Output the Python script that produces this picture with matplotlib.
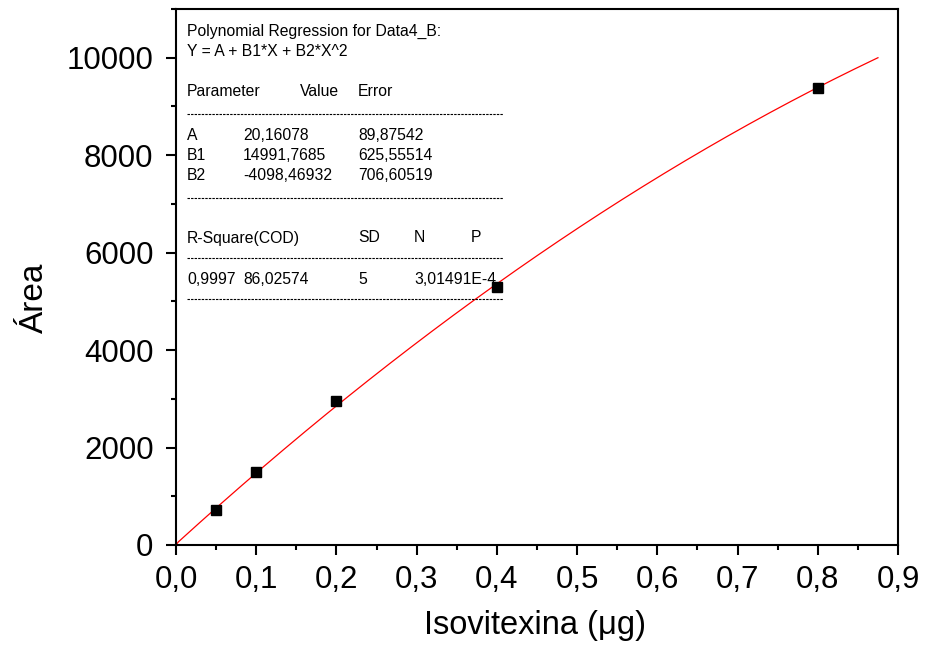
import matplotlib.pyplot as plt
from matplotlib.ticker import MultipleLocator, FuncFormatter
import numpy as np

plt.rcParams['font.family'] = ['Liberation Sans', 'DejaVu Sans']

# measured points
x_pts = [0.05, 0.1, 0.2, 0.4, 0.8]
y_pts = [717, 1496, 2951, 5287, 9385]

# fit parameters (from the Origin report)
A = 20.16078
B1 = 14991.7685
B2 = -4098.46932
fit_x_max = 0.875

fig = plt.figure(figsize=(9.25, 6.53), dpi=100)
ax = fig.add_axes([176 / 925, 1 - 545 / 653, 722 / 925, 536 / 653])

xf = np.linspace(0, fit_x_max, 300)
yf = A + B1 * xf + B2 * xf ** 2
yf[0] = 0  # line drawn from the origin
ax.plot(xf, yf, color='red', lw=0.9, zorder=2)
ax.plot(x_pts, y_pts, 's', color='black', ms=7.3, zorder=3)

ax.set_xlim(0, 0.9)
ax.set_ylim(0, 11000)
ax.xaxis.set_major_locator(MultipleLocator(0.1))
ax.xaxis.set_minor_locator(MultipleLocator(0.05))
ax.yaxis.set_major_locator(MultipleLocator(2000))
ax.yaxis.set_minor_locator(MultipleLocator(1000))
ax.xaxis.set_major_formatter(FuncFormatter(lambda v, p: ('%.1f' % v).replace('.', ',')))
ax.yaxis.set_major_formatter(FuncFormatter(lambda v, p: '%d' % v))
ax.tick_params(which='major', direction='out', length=7.2, width=1.5, labelsize=22.5, pad=9)
ax.tick_params(axis='x', which='major', pad=7.5)
ax.tick_params(which='minor', direction='out', length=3.6, width=1.5)
ax.tick_params(top=False, right=False)
for s in ax.spines.values():
    s.set_linewidth(1.5)

ax.set_xlabel('Isovitexina (\u03bcg)', fontsize=23.5)
ax.set_ylabel('\u00c1rea', fontsize=24)
ax.xaxis.set_label_coords((535 - 176) / 722, (545 - 610) / 536)
ax.yaxis.set_label_coords((50 - 176) / 722, (545 - 298) / 536)

# regression report
def fx(px):
    return (px - 176) / 722

def fy(py):
    return (545 - py) / 536

fs = 11.3
rows = [
    (31, [(187, 'Polynomial Regression for Data4_B:')]),
    (52, [(187, 'Y = A + B1*X + B2*X^2')]),
    (92, [(187, 'Parameter'), (300, 'Value'), (358, 'Error')]),
    (135, [(187, 'A'), (243, '20,16078'), (358, '89,87542')]),
    (156, [(187, 'B1'), (243, '14991,7685'), (358, '625,55514')]),
    (176, [(187, 'B2'), (243, '-4098,46932'), (358, '706,60519')]),
    (238, [(187, 'R-Square(COD)'), (358, 'SD'), (414, 'N'), (471, 'P')]),
    (279, [(187, '0,9997'), (243, '86,02574'), (358, '5'), (414, '3,01491E-4')]),
]
for py, items in rows:
    for px, txt in items:
        ax.text(fx(px), fy(py), txt, transform=ax.transAxes, fontsize=fs,
                ha='left', va='center', zorder=4)

for py in [114, 198, 258, 299]:
    ax.plot([fx(187), fx(503)], [fy(py), fy(py)], transform=ax.transAxes,
            color='black', lw=0.8, dashes=(2.2, 1.0), zorder=4)

fig.savefig('out.png', dpi=100)
